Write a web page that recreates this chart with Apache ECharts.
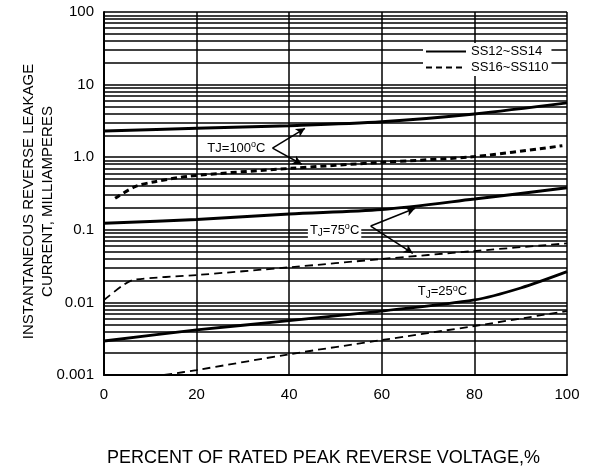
<!DOCTYPE html>
<html>
<head>
<meta charset="utf-8">
<script src="https://cdn.jsdelivr.net/npm/echarts@6/dist/echarts.min.js"></script>
<style>html,body{margin:0;padding:0;background:#fff;}#c{width:593px;height:469px;}</style>
</head>
<body>
<div id="c"></div>
<script>
// ---- data ----
const legendNames = ['SS12~SS14', 'SS16~SS110'];
const yTickLabels = ['0.001', '0.01', '0.1', '1.0', '10', '100'];
// [percent of rated voltage, leakage current mA]
const solid100 = [[0,2.3],[20,2.5],[40,2.72],[60,3.08],[80,3.95],[100,5.6]];
const dashed100 = [[2.4,0.272],[6.7,0.393],[11,0.46],[18.6,0.55],[40,0.70],[60,0.85],[80,1.02],[99,1.44]];
const solid75 = [[0,0.123],[20,0.139],[40,0.165],[60,0.19],[80,0.265],[100,0.38]];
const dashed75 = [[0,0.0108],[4.2,0.0174],[6.5,0.0205],[20,0.0238],[40,0.0304],[60,0.0396],[80,0.051],[100,0.065]];
const solid25 = [[0,0.00294],[20,0.00417],[40,0.0056],[60,0.0076],[80,0.0108],[90,0.0158],[100,0.0265]];
const dashed25 = [[13,0.001],[20,0.00117],[40,0.00193],[60,0.00303],[80,0.00473],[100,0.0076]];
// minor log grid lines (2..9 in each decade)
const minorGrid = [0.002,0.003,0.004,0.005,0.006,0.007,0.008,0.009,
  0.02,0.03,0.04,0.05,0.06,0.07,0.08,0.09,
  0.2,0.3,0.4,0.5,0.6,0.7,0.8,0.9,
  2,3,4,5,6,7,8,9,
  20,30,40,50,60,70,80,90];
// annotations: [x, y] coordinates in data space
const arrows = [
  [[36.4,1.33],[43.4,2.5]], [[36.4,1.33],[42.7,0.80]],
  [[57.6,0.1127],[67.2,0.198]], [[57.6,0.1127],[66.7,0.0474]]
];
const tjLabels = [
  {coord:[28.6,1.33], text:'TJ=100{sup|o}C', bg:false},
  {coord:[49.8,0.0993], text:'T{sub|J}=75{sup|o}C', bg:true},
  {coord:[73.1,0.0140], text:'T{sub|J}=25{sup|o}C', bg:false}
];

const FONT = 'Liberation Sans, Arial, sans-serif';
const chart = echarts.init(document.getElementById('c'));
const rich = {
  sub: {fontSize: 10, lineHeight: 10, verticalAlign: 'bottom', fontFamily: FONT, color: '#000'},
  sup: {fontSize: 9, lineHeight: 9, verticalAlign: 'top', fontFamily: FONT, color: '#000'}
};
function solid(name, data, w) {
  return {name, type:'line', data, smooth:0.3, symbol:'none', z:3,
    lineStyle:{color:'#000', width:w, type:'solid'}, itemStyle:{color:'#000'}};
}
function dashed(name, data, w, dash) {
  return {name, type:'line', data, smooth:0.3, symbol:'none', z:3,
    lineStyle:{color:'#000', width:w, type:dash}, itemStyle:{color:'#000'}};
}
const s100 = solid(legendNames[0], solid100, 3);
s100.markLine = {
  z: 1, silent: true, precision: 6, symbol: ['none','none'], label: {show:false},
  lineStyle: {color:'#000', width:1.5, type:'solid'},
  emphasis: {disabled: true},
  data: minorGrid.map(v => ({yAxis: v}))
};
const d100 = dashed(legendNames[1], dashed100, 3, [6,4]);
d100.markLine = {
  z: 5, silent: true, precision: 6, symbol: ['none','arrow'], symbolSize: [7,9], label:{show:false},
  lineStyle: {color:'#000', width:1.5, type:'solid'},
  emphasis: {disabled: true},
  data: arrows.map(a => [{coord:a[0]},{coord:a[1]}])
};
const s75 = solid(legendNames[0], solid75, 3);
s75.markPoint = {
  z: 6, silent: true, symbol: 'circle', symbolSize: 0,
  data: tjLabels.map(l => ({
    coord: l.coord,
    label: {show:true, position:'inside', formatter:l.text, color:'#000', fontSize:13,
      fontFamily: FONT, lineHeight:16, rich,
      backgroundColor: l.bg ? '#fff' : 'transparent', padding:[1,2]}
  }))
};
const option = {
  animation: false,
  backgroundColor: '#fff',
  textStyle: {fontFamily: FONT},
  grid: {left:104, right:26, top:12, bottom:94, containLabel:false, outerBoundsMode:'none'},
  legend: {
    data: legendNames, orient:'vertical', left:423, top:43,
    itemWidth:40, itemHeight:12, itemGap:3, itemTextGap:7,
    backgroundColor:'#fff', padding:[2,3,2,2], z:10,
    itemStyle:{opacity:0, color:'transparent', borderColor:'transparent', borderWidth:0},
    textStyle:{fontFamily:FONT, fontSize:13, color:'#000'}
  },
  xAxis: {
    type:'value', min:0, max:100, interval:20,
    name:'PERCENT OF RATED PEAK REVERSE VOLTAGE,%', nameLocation:'middle', nameGap:74,
    nameMoveOverlap:false,
    nameTextStyle:{fontFamily:FONT, fontSize:18, color:'#000', padding:[0,24,0,0]},
    axisLine:{show:true, lineStyle:{color:'#000', width:2}},
    axisTick:{show:false},
    axisLabel:{fontFamily:FONT, fontSize:15, color:'#000', margin:12},
    splitLine:{show:true, lineStyle:{color:'#000', width:1.5}}
  },
  yAxis: {
    type:'log', logBase:10, min:0.001, max:100,
    name:'INSTANTANEOUS REVERSE LEAKAGE\nCURRENT, MILLIAMPERES', nameLocation:'middle', nameGap:47,
    nameRotate:90, nameMoveOverlap:false,
    nameTextStyle:{fontFamily:FONT, fontSize:15, lineHeight:19, color:'#000', padding:[0,16,0,0]},
    axisLine:{show:true, lineStyle:{color:'#000', width:2}},
    axisTick:{show:false},
    axisLabel:{fontFamily:FONT, fontSize:15, color:'#000', margin:10,
      formatter: v => yTickLabels[Math.round(Math.log10(v)) + 3]},
    splitLine:{show:true, lineStyle:{color:'#000', width:1.5}}
  },
  series: [
    s100, d100, s75,
    dashed(legendNames[1], dashed75, 1.8, [8,5]),
    solid(legendNames[0], solid25, 2.8),
    dashed(legendNames[1], dashed25, 1.8, [8,5])
  ]
};
chart.setOption(option);
</script>
</body>
</html>
